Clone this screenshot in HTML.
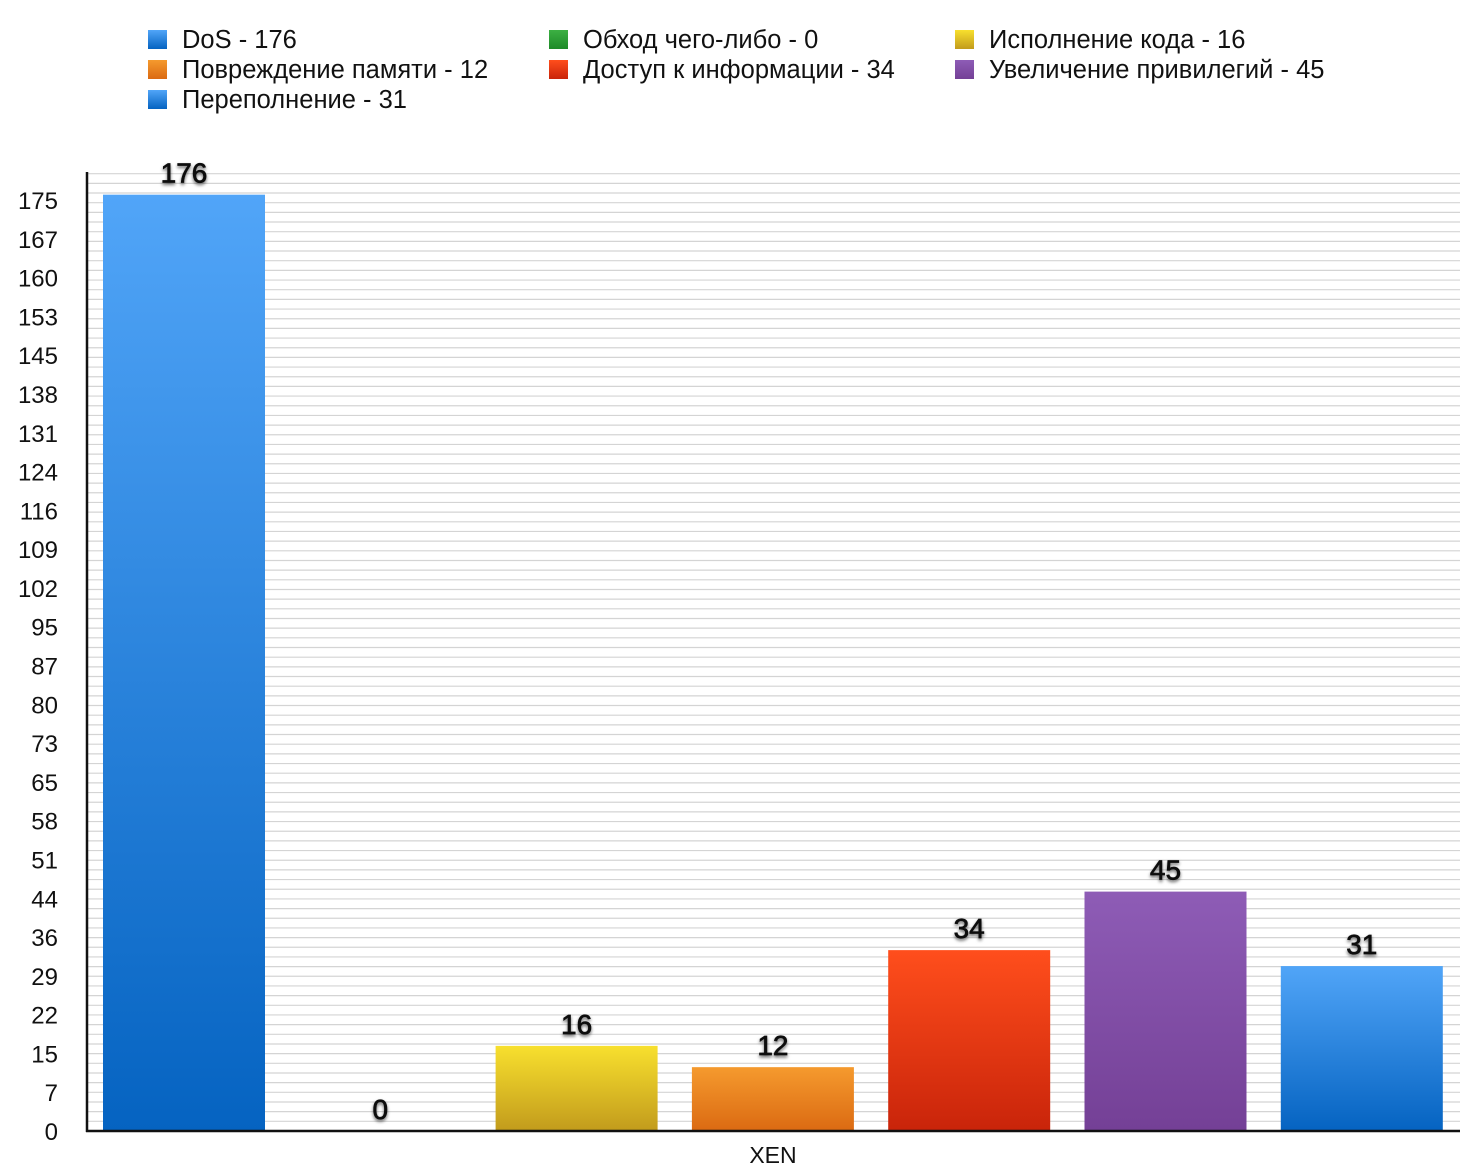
<!DOCTYPE html>
<html><head><meta charset="utf-8"><style>
body{margin:0;background:#fff;width:1462px;height:1170px;overflow:hidden;font-family:"Liberation Sans",sans-serif}
</style></head><body>
<svg width="1462" height="1170" xmlns="http://www.w3.org/2000/svg">
<defs>
<linearGradient id="gBlue" x1="0" y1="0" x2="0" y2="1"><stop offset="0" stop-color="#51a5f8"/><stop offset="1" stop-color="#0563c1"/></linearGradient>
<linearGradient id="gYellow" x1="0" y1="0" x2="0" y2="1"><stop offset="0" stop-color="#f8e02e"/><stop offset="1" stop-color="#c29b1c"/></linearGradient>
<linearGradient id="gOrange" x1="0" y1="0" x2="0" y2="1"><stop offset="0" stop-color="#f59a2e"/><stop offset="1" stop-color="#db6a12"/></linearGradient>
<linearGradient id="gRed" x1="0" y1="0" x2="0" y2="1"><stop offset="0" stop-color="#ff4e1c"/><stop offset="1" stop-color="#c9240a"/></linearGradient>
<linearGradient id="gPurple" x1="0" y1="0" x2="0" y2="1"><stop offset="0" stop-color="#8e5cb6"/><stop offset="1" stop-color="#744096"/></linearGradient>
<linearGradient id="gGreen" x1="0" y1="0" x2="0" y2="1"><stop offset="0" stop-color="#3cb043"/><stop offset="1" stop-color="#1e8a28"/></linearGradient>
<filter id="sh" x="-20%" y="-20%" width="140%" height="160%"><feDropShadow dx="0" dy="2" stdDeviation="1.5" flood-color="#000" flood-opacity="0.6"/></filter>
</defs>
<g id="grid"></g><g id="bars"></g><g id="yticks"></g><g id="legend"></g>
<line x1="87" y1="172" x2="87" y2="1132" stroke="#111" stroke-width="2.5"/>
<line x1="86" y1="1131" x2="1460" y2="1131" stroke="#111" stroke-width="2.5"/>
<text x="773" y="1163" font-size="23" text-anchor="middle" fill="#111">XEN</text>
</svg>
<script>
const categories=["DoS","Обход чего-либо","Исполнение кода","Повреждение памяти","Доступ к информации","Увеличение привилегий","Переполнение"];
const values=[176,0,16,12,34,45,31];
const fills=["gBlue","gGreen","gYellow","gOrange","gRed","gPurple","gBlue"];
const tickLabels=["0","7","15","22","29","36","44","51","58","65","73","80","87","95","102","109","116","124","131","138","145","153","160","167","175"];
const tickStep=175/24;
const NS="http://www.w3.org/2000/svg";
const base=1131,pxPerUnit=5.32;
const y=v=>base-v*pxPerUnit;
const slotX=i=>184+196.3*i;
function mk(t,a,p){const e=document.createElementNS(NS,t);for(const k in a)e.setAttribute(k,a[k]);p.appendChild(e);return e;}
const grid=document.getElementById('grid');
for(let gy=base-9.67;gy>=171;gy-=9.67){
  const l=mk('line',{x1:88,x2:1460,y1:gy,y2:gy,stroke:'#d4d4d4','stroke-width':1.2},grid);
  
  
}
const yt=document.getElementById('yticks');
tickLabels.forEach((t,i)=>{
  const e=mk('text',{x:58,y:y(i*tickStep)+9,'font-size':24,'text-anchor':'end',fill:'#111'},yt);
  e.textContent=t;
  
  
});
const bars=document.getElementById('bars');
values.forEach((v,i)=>{
  const cx=slotX(i);
  if(v>0){
    const r=mk('rect',{x:cx-81,y:y(v),width:162,height:v*pxPerUnit,fill:'url(#'+fills[i]+')'},bars);
    
    
  }
  const t=mk('text',{x:cx,y:y(v)-12,'font-size':28,'text-anchor':'middle',fill:'#111',stroke:'#111','stroke-width':0.7,filter:'url(#sh)'},bars);
  t.textContent=v;
  
  
});
const leg=document.getElementById('legend');
const legOrder=[0,1,2,3,4,5,6];
const legCols=[148,549,955];
legOrder.forEach((idx,k)=>{
  const col=k%3,row=Math.floor(k/3);
  const lx=legCols[col],ly=30+row*30;
  const g=mk('g',{},leg);
  
  
  mk('rect',{x:lx,y:ly,width:19,height:19,fill:'url(#'+fills[idx]+')'},g);
  const t=mk('text',{x:lx+34,y:ly+18,'font-size':25.5,fill:'#111'},g);
  t.textContent=categories[idx]+' - '+values[idx];
});
</script>
</body></html>
